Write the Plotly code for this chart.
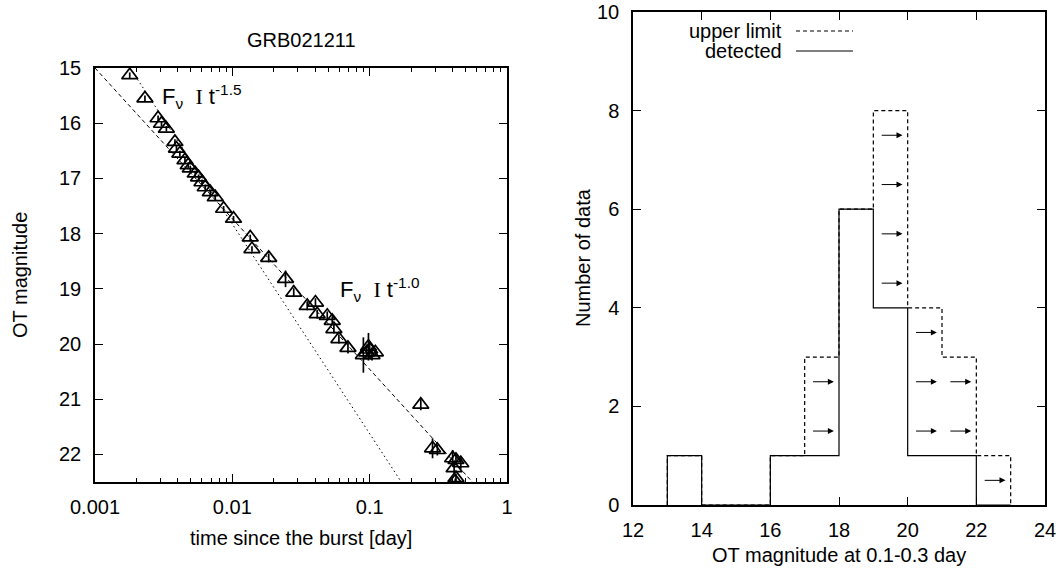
import plotly.graph_objects as go

W, H = 1064, 568

# ---------------- Left panel data: GRB021211 optical light curve ----------------
t_day = [0.00179, 0.00231, 0.00288, 0.00305, 0.00331, 0.00382, 0.00392, 0.00415, 0.00452, 0.00477,
         0.00494, 0.00537, 0.00568, 0.00601, 0.00635, 0.00691, 0.00751, 0.00864, 0.0102, 0.0135,
         0.0139, 0.0184, 0.0244, 0.0280, 0.0351, 0.0403, 0.0415, 0.0491, 0.0534, 0.0549, 0.0597, 0.0695,
         0.090, 0.095, 0.098, 0.100, 0.104, 0.110,
         0.2356, 0.287, 0.311, 0.402, 0.412, 0.425, 0.461, 0.425, 0.420]
ot_mag = [15.13, 15.55, 15.91, 16.01, 16.10, 16.34, 16.46, 16.55, 16.67, 16.76,
          16.82, 16.91, 16.98, 17.07, 17.16, 17.25, 17.34, 17.55, 17.73, 18.07,
          18.28, 18.44, 18.82, 19.07, 19.31, 19.25, 19.46, 19.49, 19.58, 19.73, 19.91, 20.07,
          20.20, 20.15, 20.05, 20.10, 20.20, 20.15,
          21.10, 21.89, 21.92, 22.07, 22.25, 22.10, 22.16, 22.43, 22.49]
ot_err = [0.05, 0.05, 0.05, 0.05, 0.05, 0.05, 0.05, 0.05, 0.05, 0.05,
          0.05, 0.05, 0.05, 0.05, 0.05, 0.05, 0.05, 0.05, 0.05, 0.05,
          0.05, 0.08, 0.15, 0.08, 0.08, 0.08, 0.08, 0.08, 0.08, 0.08, 0.08, 0.10,
          0.32, 0.10, 0.25, 0.15, 0.10, 0.05,
          0.10, 0.18, 0.10, 0.15, 0.10, 0.10, 0.10, 0.08, 0.05]

# power-law model lines
fit1_t = [0.0018, 0.17]      # F_nu ~ t^-1.5 (dotted)
fit1_m = [15.0, 22.5]
fit2_t = [0.001, 0.56]       # F_nu ~ t^-1.0 (dashed)
fit2_m = [15.0, 22.5]

# ---------------- Right panel data: histogram ----------------
bin_lo = [13, 14, 15, 16, 17, 18, 19, 20, 21, 22]
bin_width = 1
n_detected = [1, 0, 0, 1, 1, 6, 4, 1, 1, 0]
n_upper_total = [1, 0, 0, 1, 3, 6, 8, 4, 3, 1]


def step_path(lo, w, counts):
    xs, ys = [lo[0]], [0]
    for x0, c in zip(lo, counts):
        xs += [x0, x0 + w]
        ys += [c, c]
    xs.append(lo[-1] + w)
    ys.append(0)
    return xs, ys


FONT = "Liberation Sans, Arial, sans-serif"
FS = 20

fig = go.Figure()

fig.add_trace(go.Scatter(x=fit2_t, y=fit2_m, mode="lines", xaxis="x", yaxis="y",
                         line=dict(color="black", width=1, dash="4px,3px"), showlegend=False))
fig.add_trace(go.Scatter(x=fit1_t, y=fit1_m, mode="lines", xaxis="x", yaxis="y",
                         line=dict(color="black", width=1, dash="1.5px,3px"), showlegend=False))
fig.add_trace(go.Scatter(x=t_day, y=ot_mag, mode="markers", xaxis="x", yaxis="y",
                         marker=dict(symbol="triangle-up-open", size=14, color="black",
                                     line=dict(color="black", width=1.7)),
                         error_y=dict(type="data", array=ot_err, visible=True, color="black",
                                      thickness=1.7, width=0),
                         showlegend=False))

ux, uy = step_path(bin_lo, bin_width, n_upper_total)
dx, dy = step_path(bin_lo, bin_width, n_detected)
fig.add_trace(go.Scatter(x=dx, y=dy, mode="lines", xaxis="x2", yaxis="y2",
                         line=dict(color="black", width=1.2), showlegend=False))
fig.add_trace(go.Scatter(x=ux, y=uy, mode="lines", xaxis="x2", yaxis="y2",
                         line=dict(color="black", width=1.2, dash="4px,3px"), showlegend=False))

annotations = []
# arrows for upper limits
for x0, nd, nt in zip(bin_lo, n_detected, n_upper_total):
    for k in range(nt - nd):
        yv = nd + 0.5 + k
        annotations.append(dict(x=x0 + 0.85 * bin_width, y=yv, ax=x0 + 0.2 * bin_width, ay=yv,
                                xref="x2", yref="y2", axref="x2", ayref="y2", text="",
                                showarrow=True, arrowhead=2, arrowsize=1.2, arrowwidth=1,
                                arrowcolor="black"))


def px(x):
    return x / W


def py(y):
    return 1 - y / H


txt = dict(family=FONT, size=FS, color="black")
ann_font = dict(family=FONT, size=22, color="black")
annotations += [
    dict(text="GRB021211", x=px(301), y=py(40), xref="paper", yref="paper",
         showarrow=False, font=txt, xanchor="center", yanchor="middle"),
    dict(text="time since the burst [day]", x=px(301), y=py(538), xref="paper", yref="paper",
         showarrow=False, font=txt, xanchor="center", yanchor="middle"),
    dict(text="OT magnitude", x=px(20), y=py(275), xref="paper", yref="paper", textangle=-90,
         showarrow=False, font=txt, xanchor="center", yanchor="middle"),
    dict(text="OT magnitude at 0.1-0.3 day", x=px(839), y=py(555), xref="paper", yref="paper",
         showarrow=False, font=txt, xanchor="center", yanchor="middle"),
    dict(text="Number of data", x=px(583), y=py(258), xref="paper", yref="paper", textangle=-90,
         showarrow=False, font=txt, xanchor="center", yanchor="middle"),
    dict(text="upper limit", x=px(784), y=py(31), xref="paper", yref="paper",
         showarrow=False, font=txt, xanchor="right", yanchor="middle"),
    dict(text="detected", x=px(784), y=py(51), xref="paper", yref="paper",
         showarrow=False, font=txt, xanchor="right", yanchor="middle"),
    dict(text="F<sub>\u03bd</sub>\u00a0\u00a0<span style='font-family:Liberation Serif'>I</span> t<sup>-1.5</sup>",
         x=px(201), y=py(96), xref="paper", yref="paper",
         showarrow=False, font=ann_font, xanchor="center", yanchor="middle"),
    dict(text="F<sub>\u03bd</sub>\u00a0\u00a0<span style='font-family:Liberation Serif'>I</span> t<sup>-1.0</sup>",
         x=px(379), y=py(289), xref="paper", yref="paper",
         showarrow=False, font=ann_font, xanchor="center", yanchor="middle"),
]

shapes = [
    dict(type="line", xref="paper", yref="paper", x0=px(796), x1=px(853), y0=py(31), y1=py(31),
         line=dict(color="black", width=1.2, dash="4px,3px")),
    dict(type="line", xref="paper", yref="paper", x0=px(796), x1=px(853), y0=py(51), y1=py(51),
         line=dict(color="black", width=1.2)),
]

axis_common = dict(showgrid=False, zeroline=False, showline=True, linecolor="black", linewidth=1.5,
                   mirror="allticks", ticks="inside", ticklen=8, tickwidth=1, tickcolor="black",
                   automargin=False,
                   tickfont=dict(family=FONT, size=FS, color="black"))

fig.update_layout(
    width=W, height=H, margin=dict(l=0, r=0, t=0, b=0, autoexpand=False),
    paper_bgcolor="white", plot_bgcolor="white",
    xaxis=dict(axis_common, type="log", range=[-3, 0], domain=[px(95), px(507)], anchor="y",
               tickvals=[0.001, 0.01, 0.1, 1], ticktext=["0.001", "0.01", "0.1", "1"],
               minor=dict(ticks="inside", ticklen=4, tickcolor="black", tickwidth=1, dtick="D1",
                          showgrid=False), ticklabelstandoff=6),
    yaxis=dict(axis_common, range=[22.5, 15], domain=[py(482), py(68)], anchor="x",
               tickvals=[15, 16, 17, 18, 19, 20, 21, 22], ticklabelstandoff=8),
    xaxis2=dict(axis_common, range=[12, 24], domain=[px(633), px(1045)], anchor="y2",
                tickvals=[12, 14, 16, 18, 20, 22, 24], ticklabelstandoff=6),
    yaxis2=dict(axis_common, range=[0, 10], domain=[py(505), py(12)], anchor="x2",
                tickvals=[0, 2, 4, 6, 8, 10], ticklabelstandoff=8),
    annotations=annotations,
    shapes=shapes,
)

fig.write_html("out.html")
